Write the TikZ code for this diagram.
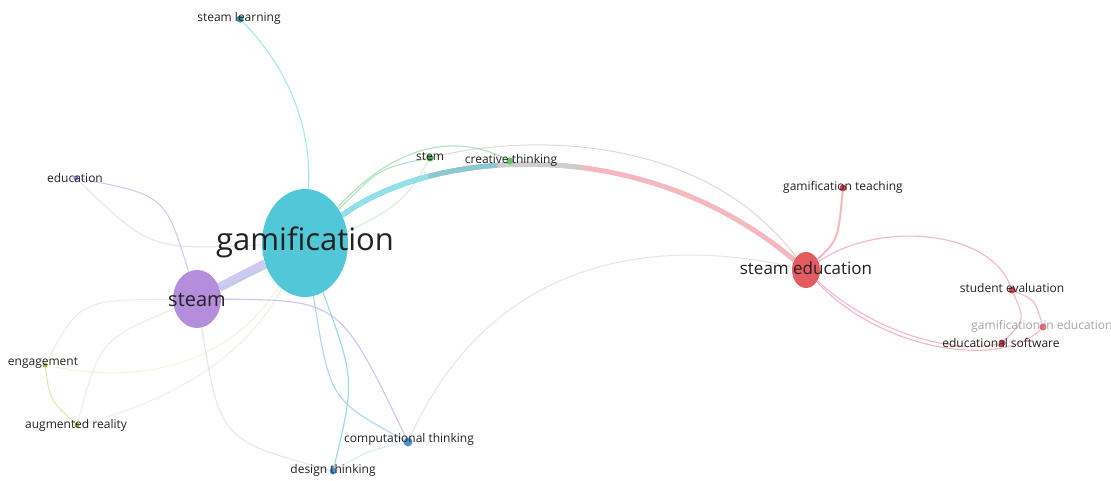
\documentclass[tikz,border=0pt]{standalone}
\usepackage{fontspec}
\setmainfont{Open Sans}
\usetikzlibrary{shapes.geometric}
\pgfdeclarelayer{bg}
\pgfdeclarelayer{edges}
\pgfsetlayers{bg,edges,main}
\definecolor{gamc}{HTML}{52C7D8}
\definecolor{steamc}{HTML}{B48EDC}
\definecolor{sec}{HTML}{E45C62}
\definecolor{labc}{HTML}{222222}
\definecolor{cyanE}{HTML}{8FE2EC}
\definecolor{blueE}{HTML}{9CCDF0}
\definecolor{lavE}{HTML}{BDB8F0}
\definecolor{pinkE}{HTML}{F4A7B0}
\definecolor{greenE}{HTML}{9EDDAE}
\definecolor{greyE}{HTML}{CDCDCD}
\definecolor{yelE}{HTML}{DDE49A}
\definecolor{redd}{HTML}{D8404C}
\definecolor{dtE}{HTML}{7FD0EC}
\begin{document}
\begin{tikzpicture}[x=1pt,y=-1pt,
  lbl/.style={text=labc,inner sep=0pt,font=\fontsize{12}{14}\selectfont},
  dotn/.style={circle,inner sep=0pt,minimum size=7},
  ed/.style={line width=1.1pt,opacity=0.8},
  fe/.style={line width=1pt,opacity=0.4}]
\begin{pgfonlayer}{bg}
\fill[white] (0,0) rectangle (1111,480);
\end{pgfonlayer}
\useasboundingbox (0,0) rectangle (1111,480);
% big nodes
\node[ellipse,fill=gamc,minimum width=86,minimum height=108,inner sep=0pt] (gam) at (305,243) {};
\node[ellipse,fill=steamc,minimum width=48,minimum height=58,inner sep=0pt] (steam) at (197,299) {};
\node[ellipse,fill=sec,minimum width=28,minimum height=36,inner sep=0pt] (se) at (806,270) {};
% small nodes
\node[dotn,fill=gamc!75!black] (sl) at (240,19) {};
\node[dotn,fill=green!55!black!70] (stem) at (430,158) {};
\node[dotn,fill=green!60!black!60] (ct) at (510,161) {};
\node[dotn,fill=redd] (gt) at (843,188) {};
\node[dotn,fill=redd] (sev) at (1012,290) {};
\node[dotn,fill=redd!80] (gie) at (1043,327) {};
\node[dotn,fill=redd] (es) at (1002,343) {};
\node[dotn,minimum size=9,fill=blue!40!cyan!70!black!70] (comp) at (408,442) {};
\node[dotn,fill=blue!40!cyan!70!black!70] (dt) at (333,471) {};
\node[dotn,minimum size=5,fill=steamc!80!blue] (edu) at (76,178) {};
\node[dotn,minimum size=5,fill=yellow!70!green!80!black] (eng) at (45,365) {};
\node[dotn,minimum size=5,fill=yellow!70!green!80!black] (ar) at (77,425) {};
% labels
\node[lbl,font=\fontsize{31}{36}\selectfont] (gaml) at (305,242) {gamification};
\node[lbl,font=\fontsize{20}{24}\selectfont] (steaml) at (197,300) {steam};
\node[lbl,font=\fontsize{17}{20}\selectfont] (sel) at (806,268) {steam education};
\node[lbl] (sll) at (239,18) {steam learning};
\node[lbl] (steml) at (430,157) {stem};
\node[lbl] (ctl) at (511,160) {creative thinking};
\node[lbl] (gtl) at (843,187) {gamification teaching};
\node[lbl] (sevl) at (1012,288) {student evaluation};
\node[lbl,text=black!35] (giel) at (1042,326) {gamification in education};
\node[lbl] (esl) at (1001,343) {educational software};
\node[lbl] (compl) at (409,439) {computational thinking};
\node[lbl] (dtl) at (333,470) {design thinking};
\node[lbl] (edul) at (75,178) {education};
\node[lbl] (engl) at (43,363) {engagement};
\node[lbl] (arl) at (76,425) {augmented reality};
% edges
\begin{pgfonlayer}{edges}
\draw[ed,cyanE] (gam) .. controls (312,130) and (290,70) .. (sl);
\draw[line width=9pt,lavE,opacity=0.75] (steam) -- (gam);
\draw[line width=5pt,pinkE,opacity=0.8] (gam) .. controls (430,150) and (640,130) .. (se);
\draw[line width=5pt,greyE,dash pattern=on 250pt off 2000pt] (gam) .. controls (430,150) and (640,130) .. (se);
\draw[line width=5pt,cyanE!75!gray,dash pattern=on 165pt off 2000pt] (gam) .. controls (430,150) and (640,130) .. (se);
\draw[line width=5pt,cyanE,dash pattern=on 95pt off 2000pt] (gam) .. controls (430,150) and (640,130) .. (se);
\draw[ed,greenE] (gam) .. controls (380,168) .. (stem);
\draw[ed,greenE] (gam) .. controls (390,150) and (450,130) .. (ct);
\draw[fe,greyE!70!green] (stem) .. controls (400,210) .. (steam);
\draw[fe,pinkE!60!gray] (stem) .. controls (520,135) and (700,130) .. (se);
\draw[fe,blueE!60!pinkE] (comp) .. controls (490,260) and (650,235) .. (se);
\draw[ed,pinkE,line width=2pt] (se) .. controls (838,240) .. (gt);
\draw[ed,pinkE] (se) .. controls (880,220) and (990,230) .. (sev);
\draw[ed,pinkE] (se) .. controls (870,330) and (950,355) .. (es);
\draw[ed,pinkE] (se) .. controls (880,350) and (1000,370) .. (gie);
\draw[ed,pinkE] (sev) .. controls (1025,320) .. (es);
\draw[ed,pinkE] (sev) .. controls (1035,300) .. (gie);
\draw[ed,blueE] (gam) .. controls (330,400) .. (comp);
\draw[ed,dtE] (gam) .. controls (355,380) .. (dt);
\draw[ed,lavE] (steam) .. controls (340,300) .. (comp);
\draw[fe,lavE] (steam) .. controls (220,440) .. (dt);
\draw[fe,blueE] (dt) .. controls (370,450) .. (comp);
\draw[ed,lavE,opacity=0.7] (edu) .. controls (165,195) .. (steam);
\draw[fe,lavE] (edu) .. controls (150,250) .. (gam);
\draw[fe,yelE!60!lavE] (eng) .. controls (80,300) .. (steam);
\draw[fe,yelE] (eng) .. controls (160,390) and (240,350) .. (gam);
\draw[fe,yelE!60!lavE] (ar) .. controls (100,340) .. (steam);
\draw[fe,yelE!60!cyanE] (ar) .. controls (180,400) and (250,350) .. (gam);
\draw[ed,yelE] (eng) .. controls (50,400) .. (ar);
\end{pgfonlayer}
\end{tikzpicture}
\end{document}
